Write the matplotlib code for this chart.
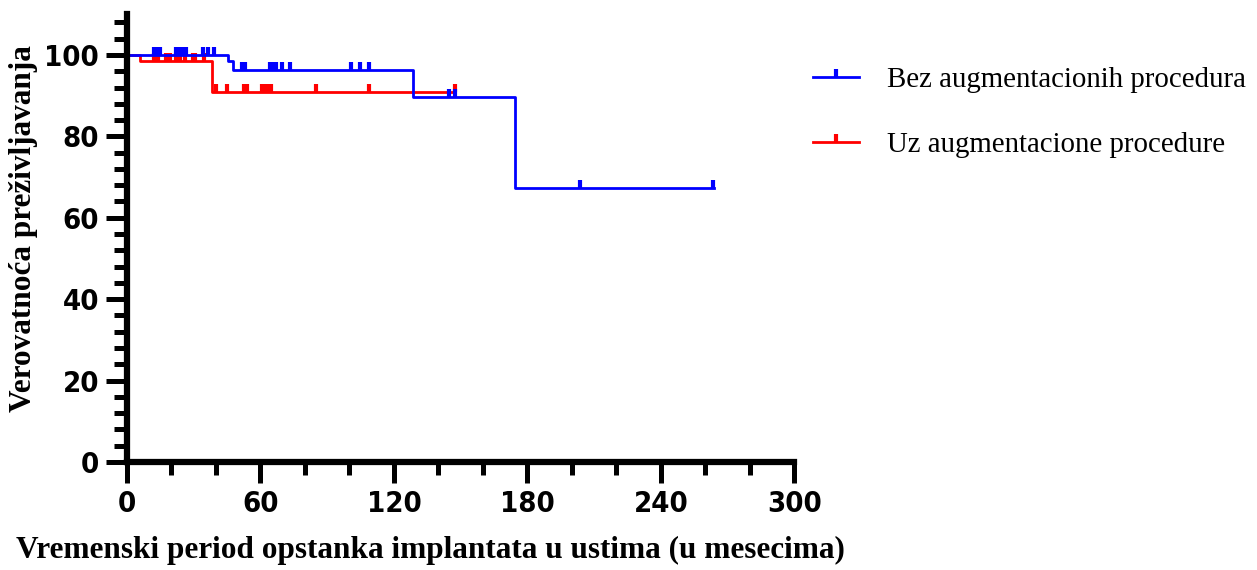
import numpy as np
import matplotlib
matplotlib.use("Agg")
import matplotlib.pyplot as plt
from matplotlib.path import Path
from matplotlib.lines import Line2D
from matplotlib.ticker import MultipleLocator

# Kaplan-Meier steps (months, % survival)
blue_times = [0, 45.5, 47.7, 128.6, 174.5, 264]
blue_surv = [100, 98.4, 96.3, 89.6, 67.2, 67.2]
blue_censored = [12, 13.5, 15, 22, 23.5, 25, 26.5, 34, 36.5, 39,
                 51.5, 53, 64.5, 66, 67, 69.5, 73.5, 100.7, 104.8, 108.8,
                 144.8, 147.6, 203.5, 263.5]

red_times = [0, 5.8, 38.3, 147.6]
red_surv = [100, 98.6, 90.9, 90.9]
red_censored = [12, 14, 17.5, 19.5, 22, 24, 26, 29.5, 30.5, 34.5,
                39.8, 44.8, 52.7, 54, 60.8, 62, 63.3, 64.7, 85, 108.8, 147.6]

labels = ["Bez augmentacionih procedura", "Uz augmentacione procedure"]
xlabel = "Vremenski period opstanka implantata u ustima (u mesecima)"
ylabel = "Verovatnoća preživljavanja"

BLUE = "#0000ff"
RED = "#ff0000"

# censor tick: a short vertical bar standing on the curve
tick_marker = Path([(0, 0), (0, 1)])


def level_at(times, surv, t):
    idx = np.searchsorted(times, t, side="right") - 1
    return np.array(surv)[idx]


fig = plt.figure(figsize=(12.57, 5.7), dpi=100)
ax = fig.add_axes([0.101, 0.1895, 0.531, 0.7855])

for times, surv, cens, col in [(red_times, red_surv, red_censored, RED),
                               (blue_times, blue_surv, blue_censored, BLUE)]:
    ax.step(times, surv, where="post", color=col, lw=2)
    ax.plot(cens, level_at(times, surv, cens), linestyle="none",
            marker=tick_marker, markersize=11.5, mew=3, color=col)

ax.set_xlim(0, 300)
ax.set_ylim(0, 110)
ax.xaxis.set_major_locator(MultipleLocator(60))
ax.xaxis.set_minor_locator(MultipleLocator(20))
ax.yaxis.set_major_locator(MultipleLocator(20))
ax.yaxis.set_minor_locator(MultipleLocator(4))

for s in ["top", "right"]:
    ax.spines[s].set_visible(False)
for s in ["left", "bottom"]:
    ax.spines[s].set_linewidth(4.5)
    ax.spines[s].set_capstyle("projecting")

ax.tick_params(which="major", length=15, width=3.6, direction="out", pad=5)
ax.tick_params(which="minor", length=9.5, width=3.6, direction="out")

for lab in ax.get_xticklabels() + ax.get_yticklabels():
    lab.set_fontfamily(["Liberation Sans Narrow", "DejaVu Sans"])
    lab.set_fontstretch("condensed")
    lab.set_fontweight("bold")
    lab.set_fontsize(21)

ax.set_xlabel(xlabel, family="Liberation Serif", fontweight="bold",
              fontsize=22.5)
ax.set_ylabel(ylabel, family="Liberation Serif", fontweight="bold",
              fontsize=22.5)
ax.xaxis.set_label_coords(0.454, -0.165)
ax.yaxis.set_label_coords(-0.133, 0.522)

handles = [Line2D([], [], color=c, lw=2, marker=tick_marker,
                  markersize=11.5, mew=3) for c in (BLUE, RED)]
fig.legend(handles, labels, loc="upper left", bbox_to_anchor=(0.626, 0.929),
           frameon=False, prop={"family": "Liberation Serif", "size": 20.8},
           handlelength=1.6, handletextpad=0.95, labelspacing=1.35,
           numpoints=1)

fig.savefig("out.png", dpi=100)
